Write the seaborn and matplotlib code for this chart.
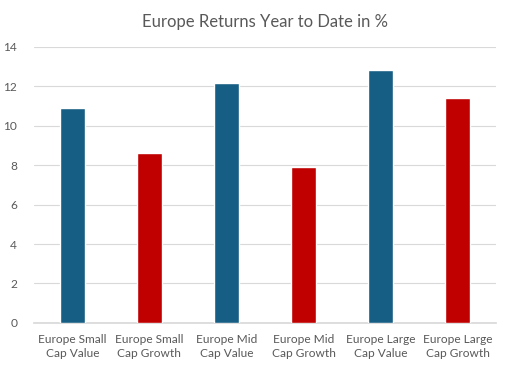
import numpy as np
import matplotlib
matplotlib.use('Agg')
import matplotlib.pyplot as plt
import pandas as pd
import seaborn as sns

categories = ['Europe Small\nCap Value', 'Europe Small\nCap Growth', 'Europe Mid\nCap Value',
              'Europe Mid\nCap Growth', 'Europe Large\nCap Value', 'Europe Large\nCap Growth']
returns = [10.9, 8.62, 12.18, 7.92, 12.81, 11.42]
styles = ['Value', 'Growth', 'Value', 'Growth', 'Value', 'Growth']
y_ticks = [0, 2, 4, 6, 8, 10, 12, 14]

df = pd.DataFrame({'category': categories, 'ret': returns, 'style': styles})

sns.set_theme(style='white')
plt.rcParams['font.family'] = ['Lato', 'DejaVu Sans']

fig = plt.figure(figsize=(5.12, 3.72), dpi=100)
ax = fig.add_axes([0.066, 0.132, 0.903, 0.742])

pal = {'Value': '#165e83', 'Growth': '#c00000'}
sns.barplot(data=df, x='category', y='ret', hue='style', palette=pal, saturation=1,
            dodge=False, width=0.32, legend=False, ax=ax, zorder=3)

ax.set_ylim(0, 14)
ax.set_yticks(y_ticks)
ax.yaxis.grid(True, color='#d9d9d9', linewidth=0.8, zorder=0)
ax.set_xlabel('')
ax.set_ylabel('')
for s in ['top', 'right', 'left']:
    ax.spines[s].set_visible(False)
ax.spines['bottom'].set_color('#d9d9d9')
ax.tick_params(axis='both', length=0, labelsize=8.6, colors='#595959')
ax.tick_params(axis='x', pad=8)
ax.tick_params(axis='y', pad=12)
for lbl in ax.get_xticklabels():
    lbl.set_linespacing(1.35)
ax.set_title('Europe Returns Year to Date in %', fontsize=12, color='#595959', pad=14)

fig.savefig('out.png', dpi=100)
